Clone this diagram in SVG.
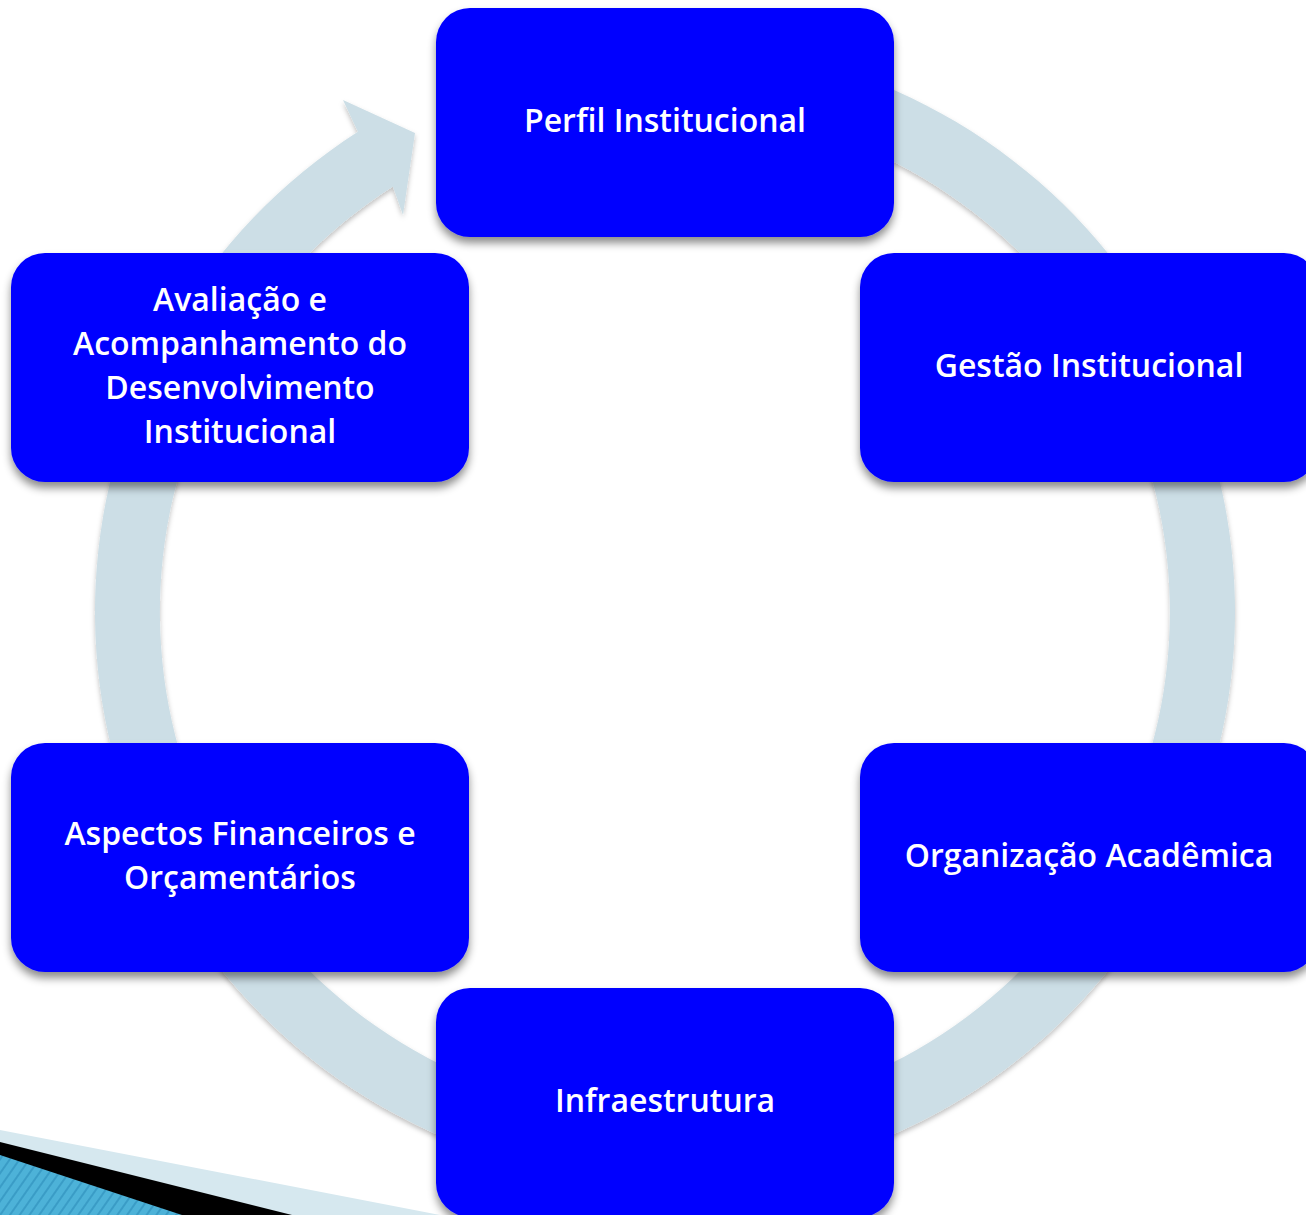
<svg xmlns="http://www.w3.org/2000/svg" width="1306" height="1215" viewBox="0 0 1306 1215">
<defs>
<filter id="sh" x="-10%" y="-10%" width="120%" height="130%">
<feDropShadow dx="0" dy="6" stdDeviation="4" flood-color="#000" flood-opacity="0.45"/>
</filter>
<filter id="rsh" x="-10%" y="-10%" width="120%" height="120%">
<feDropShadow dx="0" dy="3" stdDeviation="2.5" flood-color="#000" flood-opacity="0.25"/>
</filter>
<pattern id="stripes" width="8" height="8" patternUnits="userSpaceOnUse" patternTransform="rotate(35)">
<rect width="8" height="8" fill="#4DB2D8"/>
<rect width="2" height="8" fill="#3A9CC6"/>
</pattern>
<style>
.box{fill:#0000FF;filter:url(#sh);}
.t{font-family:"Open Sans","DejaVu Sans",sans-serif;font-size:32px;font-weight:600;fill:#FFFFFF;text-anchor:middle;}
</style>
</defs>
<g id="deco">
<polygon points="0,1130 440,1215 0,1215" fill="#D6E8EF"/>
<polygon points="0,1142 292,1215 0,1215" fill="#000000"/>
<polygon points="0,1155 182,1215 0,1215" fill="url(#stripes)"/>
</g>
<g id="connectors">
<path d="M 665 42 A 570 570 0 1 1 357.9 131.8 L 343 100 L 415 133 L 403 215 L 392.9 186.5 A 505 505 0 1 0 665 107 Z" fill="#CCDEE6" filter="url(#rsh)"/>
</g>
<g id="n1"><rect class="box" x="436" y="8" width="458" height="229" rx="34"/><text class="t" x="665" y="132">Perfil Institucional</text></g>
<g id="n2"><rect class="box" x="860" y="253" width="458" height="229" rx="34"/><text class="t" x="1089" y="377">Gestão Institucional</text></g>
<g id="n3"><rect class="box" x="860" y="743" width="458" height="229" rx="34"/><text class="t" x="1089" y="867">Organização Acadêmica</text></g>
<g id="n4"><rect class="box" x="436" y="988" width="458" height="229" rx="34"/><text class="t" x="665" y="1112">Infraestrutura</text></g>
<g id="n5"><rect class="box" x="11" y="743" width="458" height="229" rx="34"/><text class="t" x="240" y="845">Aspectos Financeiros e</text><text class="t" x="240" y="889">Orçamentários</text></g>
<g id="n6"><rect class="box" x="11" y="253" width="458" height="229" rx="34"/><text class="t" x="240" y="311">Avaliação e</text><text class="t" x="240" y="355">Acompanhamento do</text><text class="t" x="240" y="399">Desenvolvimento</text><text class="t" x="240" y="443">Institucional</text></g>
</svg>
